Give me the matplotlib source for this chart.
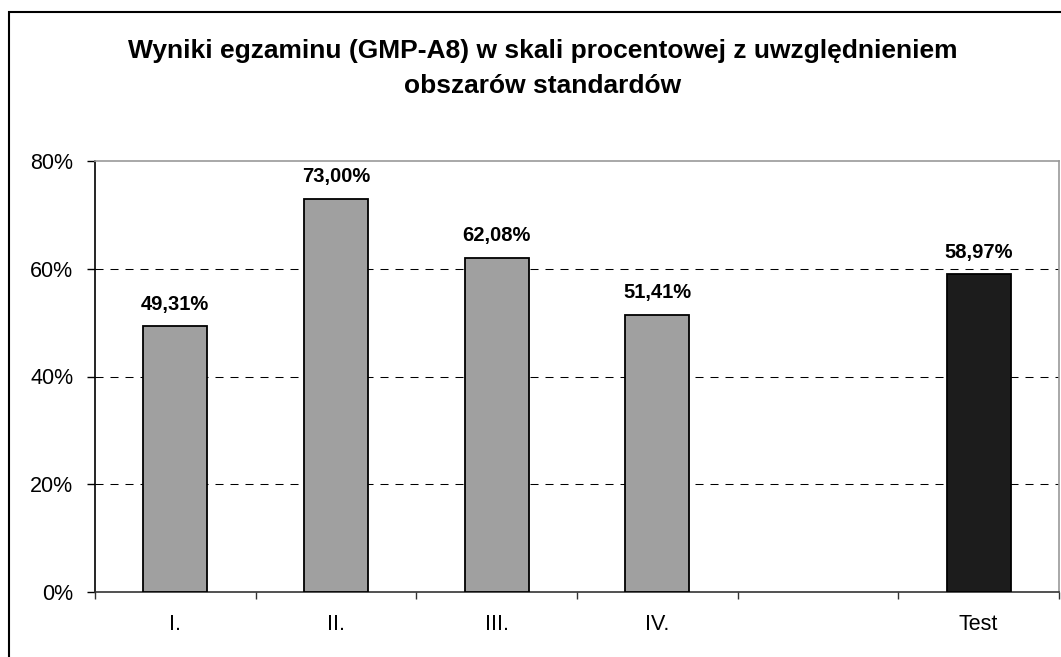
import matplotlib
matplotlib.use('Agg')
import matplotlib.pyplot as plt
from matplotlib.patches import Rectangle
import numpy as np

# Dane z wykresu
kategorie = ["I.", "II.", "III.", "IV.", "", "Test"]
wyniki = [49.31, 73.00, 62.08, 51.41, None, 58.97]
kolory = ["#a0a0a0", "#a0a0a0", "#a0a0a0", "#a0a0a0", None, "#1c1c1c"]
tytul_1 = "Wyniki egzaminu (GMP-A8) w skali procentowej z uwzględnieniem"
tytul_2 = "obszarów standardów"

plt.rcParams['font.family'] = ['Liberation Sans', 'DejaVu Sans']

W, H = 1061, 657
fig = plt.figure(figsize=(W / 100, H / 100), dpi=100)
ax = fig.add_axes([95 / W, 1 - 592 / H, (1059 - 95) / W, (592 - 161) / H])

# ramka wokol calego wykresu (przycieta z prawej i od dolu)
fig.patches.append(Rectangle((9 / W, -0.1), 1.2, 1 - 12 / H + 0.1,
                             transform=fig.transFigure, fill=False,
                             edgecolor='black', linewidth=1.5))

x = np.arange(len(kategorie))
for xi, val, kol in zip(x, wyniki, kolory):
    if val is None:
        continue
    ax.bar(xi, val, width=0.4, color=kol, edgecolor='black', linewidth=1.3, zorder=3)
    ax.annotate(f"{val:.2f}%".replace('.', ','), (xi, val), xytext=(0, 12),
                textcoords='offset points', ha='center', va='baseline',
                fontsize=14.5, fontweight='bold', zorder=4)

ax.set_xlim(-0.5, len(kategorie) - 0.5)
ax.set_ylim(0, 80)
ax.set_yticks([0, 20, 40, 60, 80])
ax.set_yticklabels([f"{v}%" for v in [0, 20, 40, 60, 80]], fontsize=15.5)
ax.set_xticks(x)
ax.set_xticklabels(kategorie, fontsize=15.5)
ax.set_xticks(np.arange(-0.5, len(kategorie)), minor=True)
ax.tick_params(axis='x', which='major', length=0, pad=16)
ax.tick_params(axis='x', which='minor', length=5, direction='out', width=1, color='#333333')
ax.tick_params(axis='y', length=5.5, width=1, pad=10)

for g in [20, 40, 60]:
    ax.axhline(g, color='black', linestyle=(0, (7.7, 6.7)), linewidth=0.75, zorder=1)

ax.spines['top'].set_color('#999999')
ax.spines['right'].set_color('#999999')
ax.spines['left'].set_color('black')
ax.spines['bottom'].set_color('#333333')
for s in ax.spines.values():
    s.set_linewidth(1.2)

fig.text(543 / W, 1 - 58 / H, tytul_1, ha='center', va='baseline', fontsize=19,
         fontweight='bold')
fig.text(543 / W, 1 - 93 / H, tytul_2, ha='center', va='baseline', fontsize=19,
         fontweight='bold')

plt.savefig("out.png", dpi=100)
plt.close(fig)
